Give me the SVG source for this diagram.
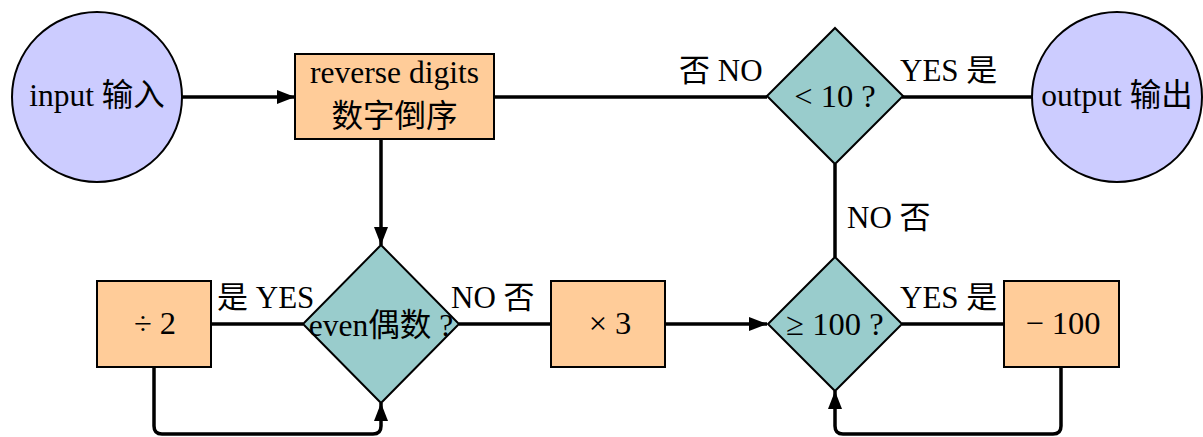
<svg xmlns="http://www.w3.org/2000/svg" width="1203" height="437" viewBox="0 0 1203 437">
<style>
text{font-family:"Liberation Serif","Noto Sans CJK SC",serif;font-size:31.5px;fill:#000}
.c{text-anchor:middle}
.m{font-size:32.5px}
.lb{font-size:31px}
.term{fill:#ccccff;stroke:#000;stroke-width:2}
.proc{fill:#ffcc99;stroke:#000;stroke-width:2}
.dec{fill:#99cccc;stroke:#000;stroke-width:2}
.ln{fill:none;stroke:#000;stroke-width:3.5}
</style>
<defs>
<marker id="ah" markerWidth="18" markerHeight="14" refX="18" refY="7" orient="auto" markerUnits="userSpaceOnUse">
<path d="M0,0 L18,7 L0,14 Z" fill="#000"/>
</marker>
</defs>
<g id="connectors">
<line class="ln" x1="182" y1="97" x2="295" y2="97" marker-end="url(#ah)"/>
<line class="ln" x1="494" y1="97" x2="767" y2="97"/>
<line class="ln" x1="902" y1="97" x2="1032" y2="97"/>
<line class="ln" x1="381" y1="139" x2="381" y2="245" marker-end="url(#ah)"/>
<line class="ln" x1="835" y1="164" x2="835" y2="257"/>
<line class="ln" x1="211" y1="324" x2="303" y2="324"/>
<line class="ln" x1="459" y1="324" x2="551" y2="324"/>
<line class="ln" x1="665" y1="324" x2="767" y2="324" marker-end="url(#ah)"/>
<line class="ln" x1="902" y1="324" x2="1004" y2="324"/>
<path class="ln" d="M154,367 V426 Q154,434 162,434 H373 Q381,434 381,426 V403" marker-end="url(#ah)"/>
<path class="ln" d="M1061,367 V426 Q1061,434 1053,434 H843 Q835,434 835,426 V391" marker-end="url(#ah)"/>
<text class="lb" x="679" y="81">否 NO</text>
<text class="lb" x="900" y="81">YES 是</text>
<text class="lb" x="847" y="228">NO 否</text>
<text class="lb" x="217" y="308">是 YES</text>
<text class="lb" x="451" y="308">NO 否</text>
<text class="lb" x="900" y="308">YES 是</text>
</g>
<g id="input">
<circle class="term" cx="97" cy="97" r="85"/>
<text class="c" x="97" y="106">input 输入</text>
</g>
<g id="reverse">
<rect class="proc" x="295" y="54" width="199" height="85"/>
<text class="c" x="394.5" y="83">reverse digits</text>
<text class="c" x="394.5" y="127">数字倒序</text>
</g>
<g id="lt10">
<polygon class="dec" points="835,28 903,96 835,164 767,96"/>
<text class="c m" x="835" y="107">&lt; 10 ?</text>
</g>
<g id="output">
<circle class="term" cx="1117" cy="97" r="85"/>
<text class="c" x="1117" y="106">output 输出</text>
</g>
<g id="even">
<polygon class="dec" points="381,245 459,324 381,403 303,324"/>
<text class="c" x="381" y="336">even偶数 ?</text>
</g>
<g id="div2">
<rect class="proc" x="97" y="281" width="114" height="86"/>
<text class="c m" x="155" y="334">÷ 2</text>
</g>
<g id="times3">
<rect class="proc" x="551" y="281" width="114" height="86"/>
<text class="c m" x="610" y="334">× 3</text>
</g>
<g id="ge100">
<polygon class="dec" points="835,257 902,324 835,391 768,324"/>
<text class="c m" x="835" y="335">≥ 100 ?</text>
</g>
<g id="minus100">
<rect class="proc" x="1004" y="281" width="115" height="86"/>
<text class="c m" x="1063" y="334">− 100</text>
</g>
</svg>
